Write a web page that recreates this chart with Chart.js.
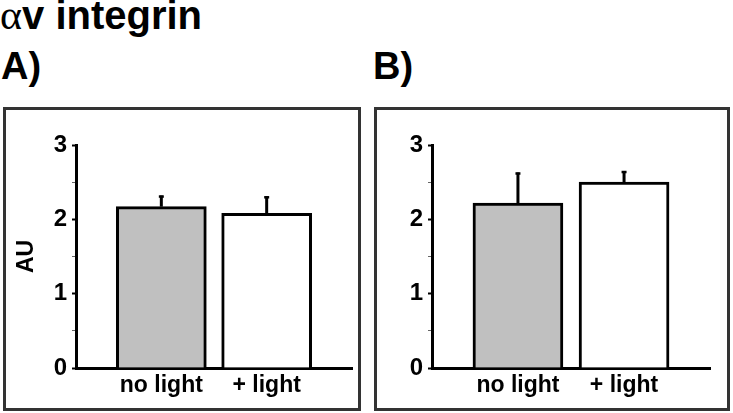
<!DOCTYPE html>
<html>
<head>
<meta charset="utf-8">
<script src="https://cdn.jsdelivr.net/npm/chart.js@4"></script>
<style>
  html, body { margin: 0; padding: 0; background: #fff; }
  body { width: 733px; height: 413px; position: relative; overflow: hidden; font-family: "Liberation Sans", Arial, sans-serif; }
  .txt { position: absolute; font-weight: bold; color: #000; white-space: nowrap; line-height: 38px; font-size: 38px; }
  .box { position: absolute; box-sizing: border-box; border: 3px solid #333; }
  canvas { position: absolute; top: 0; }
</style>
</head>
<body>
<div class="txt" style="left:0px; top:-4px; font-size:40px;"><span style="font-family:'Liberation Serif','DejaVu Serif',serif; font-weight:normal; font-size:42px;">α</span>v integrin</div>
<div class="txt" style="left:1px; top:47px;">A)</div>
<div class="txt" style="left:373px; top:47px;">B)</div>
<div class="box" style="left:3px; top:107px; width:358px; height:304px;"></div>
<div class="box" style="left:374px; top:107px; width:356px; height:304px;"></div>
<div style="position:absolute; left:0; top:0; width:366px; height:413px;"><canvas id="cA"></canvas></div>
<div style="position:absolute; left:366px; top:0; width:367px; height:413px;"><canvas id="cB"></canvas></div>
<script>
// ---- data ----
const categories = ['no light', '+ light'];
const panelAValues = [2.17, 2.08];
const panelAErrors = [0.15, 0.23];
const panelBValues = [2.22, 2.50];
const panelBErrors = [0.41, 0.15];
const yTickValues = [0, 0.5, 1, 1.5, 2, 2.5, 3];
const barColors = ['#c0c0c0', '#ffffff'];

const errorBarPlugin = {
  id: 'errorBars',
  afterDatasetsDraw(chart) {
    const ctx = chart.ctx;
    const yScale = chart.scales.y;
    chart.data.datasets.forEach((ds, di) => {
      const meta = chart.getDatasetMeta(di);
      meta.data.forEach((bar, i) => {
        const v = ds.data[i].y;
        const e = ds.errors[i];
        const yTop = yScale.getPixelForValue(v + e);
        const yBase = bar.y;
        ctx.save();
        ctx.strokeStyle = '#000';
        ctx.lineWidth = 3;
        ctx.beginPath();
        ctx.moveTo(bar.x, yBase);
        ctx.lineTo(bar.x, yTop);
        ctx.stroke();
        ctx.lineWidth = 2.5;
        ctx.beginPath();
        ctx.moveTo(bar.x - 2.5, yTop + 1);
        ctx.lineTo(bar.x + 2.5, yTop + 1);
        ctx.stroke();
        ctx.restore();
      });
    });
  }
};

function makeChart(id, values, errors, yWidth, padRight, showTitle) {
  return new Chart(document.getElementById(id), {
    type: 'bar',
    data: {
      datasets: [{
        data: values.map((v, i) => ({ x: i + 1, y: v })),
        errors: errors,
        backgroundColor: barColors,
        borderColor: '#000',
        borderWidth: 3,
        borderSkipped: 'bottom',
        barThickness: 90
      }]
    },
    plugins: [errorBarPlugin],
    options: {
      responsive: true,
      maintainAspectRatio: false,
      animation: false,
      events: [],
      layout: { padding: { left: 0, right: padRight, top: 145, bottom: 0 } },
      plugins: { legend: { display: false }, tooltip: { enabled: false }, title: { display: false } },
      scales: {
        x: {
          type: 'linear',
          min: 0.19,
          max: 2.81,
          offset: false,
          afterBuildTicks: (s) => { s.ticks = categories.map((c, i) => ({ value: i + 1 })); },
          afterFit: (s) => { s.height = 45; },
          grid: { display: false, drawTicks: false },
          border: { display: true, color: '#000', width: 3 },
          ticks: {
            color: '#000',
            padding: 4,
            maxRotation: 0,
            autoSkip: false,
            font: { family: 'Liberation Sans', size: 23, weight: 'bold' },
            callback: (v) => categories[Math.round(v) - 1]
          }
        },
        y: {
          min: 0,
          max: 3,
          afterBuildTicks: (s) => { s.ticks = yTickValues.map(v => ({ value: v })); },
          afterFit: (s) => { s.width = yWidth; },
          grid: {
            display: true,
            drawOnChartArea: false,
            drawTicks: true,
            tickLength: 4,
            tickColor: (c) => (c.tick && Number.isInteger(c.tick.value)) ? '#000' : '#666',
            tickWidth: (c) => (c.tick && Number.isInteger(c.tick.value)) ? 2 : 1
          },
          border: { display: true, color: '#000', width: 3 },
          title: {
            display: showTitle,
            text: 'AU',
            color: '#000',
            padding: { top: 13, bottom: 0 },
            font: { family: 'Liberation Sans', size: 23, weight: 'bold' }
          },
          ticks: {
            color: '#000',
            padding: 5,
            font: { family: 'Liberation Sans', size: 24, weight: 'bold' },
            callback: (v) => Number.isInteger(v) ? String(v) : ''
          }
        }
      }
    }
  });
}

makeChart('cA', panelAValues, panelAErrors, 76, 14, true);
makeChart('cB', panelBValues, panelBErrors, 66, 23, false);
</script>
</body>
</html>
